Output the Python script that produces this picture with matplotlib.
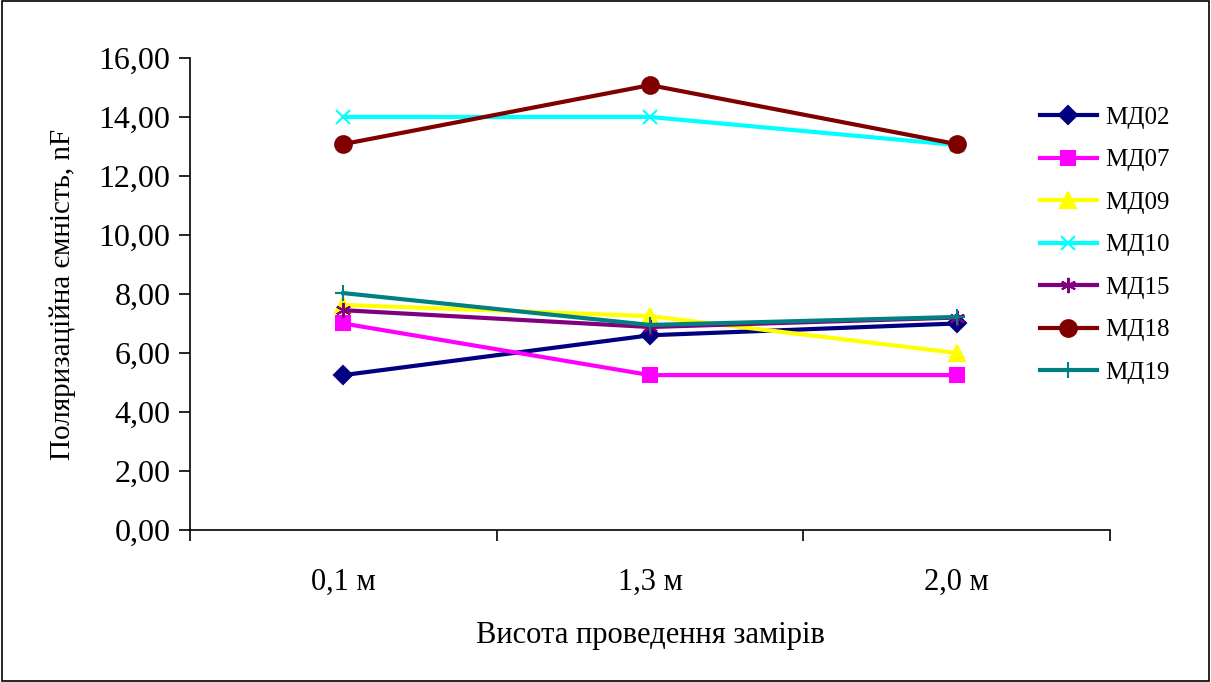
import matplotlib.pyplot as plt
from matplotlib.patches import Rectangle

plt.rcParams['font.family'] = ['Liberation Serif', 'DejaVu Serif']

visoty = ['0,1 м', '1,3 м', '2,0 м']

md02 = [5.25, 6.6, 7.0]
md07 = [7.0, 5.25, 5.25]
md09 = [7.63, 7.25, 6.0]
md10 = [14.0, 14.0, 13.05]
md15 = [7.45, 6.88, 7.2]
md18 = [13.08, 15.08, 13.08]
md19 = [8.03, 6.95, 7.22]

nazvy = ['МД02', 'МД07', 'МД09', 'МД10', 'МД15', 'МД18', 'МД19']
kolory = ['#000080', '#FF00FF', '#FFFF00', '#00FFFF', '#800080', '#800000', '#008080']
markery = ['D', 's', '^', 'x', (6, 2, 0), 'o', '+']
rozmir = [9, 10, 11, 10, 11, 12, 12]

fig = plt.figure(figsize=(12.11, 6.82), dpi=100)
ax = fig.add_axes([0.1569, 0.2229, 0.7597, 0.6921])

x = range(len(visoty))
for dani, n, c, m, s in zip([md02, md07, md09, md10, md15, md18, md19],
                            nazvy, kolory, markery, rozmir):
    ax.plot(x, dani, color=c, marker=m, markersize=s, linewidth=3,
            markeredgewidth=1.5, label=n)

ax.set_xlim(-0.5, 2.5)
ax.set_ylim(0, 16)
ax.set_yticks(range(0, 17, 2))
ax.set_yticklabels(['%d,00' % v for v in range(0, 17, 2)], fontsize=23)
ax.set_xticks([-0.5, 0.5, 1.5, 2.5])
ax.set_xticklabels([])
ax.set_xticks([0, 1, 2], minor=True)
ax.set_xticklabels(visoty, minor=True, fontsize=22)
ax.tick_params(axis='x', which='minor', length=0, pad=27)
ax.tick_params(axis='x', which='major', length=8, width=1.2)
ax.tick_params(axis='y', length=8, width=1.2, pad=6)

ax.spines['top'].set_visible(False)
ax.spines['right'].set_visible(False)
ax.spines['left'].set_linewidth(1.2)
ax.spines['bottom'].set_linewidth(1.2)

ax.set_ylabel('Поляризаційна ємність, nF', fontsize=21, labelpad=16)
ax.set_xlabel('Висота проведення замірів', fontsize=22, labelpad=18)

fig.legend(loc='upper left', bbox_to_anchor=(0.84, 0.877), frameon=False,
           fontsize=18, handlelength=2.3, labelspacing=0.8, handletextpad=0.3)

fig.patches.append(Rectangle((0.002, 0.002), 0.996, 0.996, transform=fig.transFigure,
                             fill=False, edgecolor='black', linewidth=1.2))

fig.savefig('out.png', dpi=100)
